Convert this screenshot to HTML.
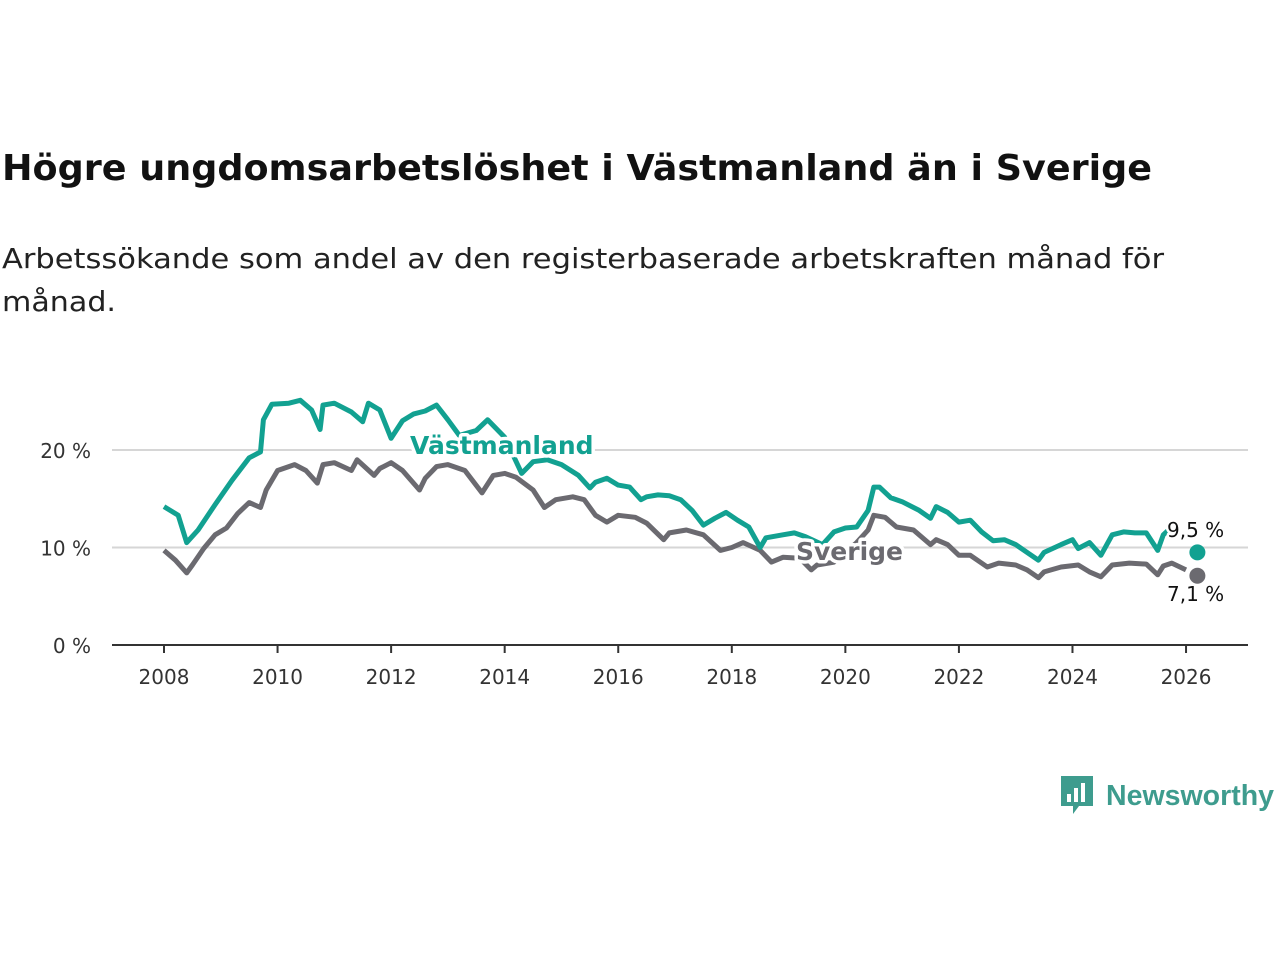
<!DOCTYPE html>
<html><head><meta charset="utf-8"><style>
body{margin:0;background:#fff;width:1280px;height:960px;overflow:hidden;font-family:"DejaVu Sans","Liberation Sans",sans-serif;position:relative}
.fit{position:absolute;white-space:nowrap;transform-origin:0 0;margin:0}
#title{left:2px;top:148px;font-size:36px;font-weight:bold;color:#111}
#sub1{left:2px;top:242px;font-size:28px;color:#222}
#sub2{left:2px;top:285px;font-size:28px;color:#222}
svg#chart{position:absolute;left:0;top:0}
</style></head><body>
<h1 id="title" class="fit" data-fit="1150">Högre ungdomsarbetslöshet i Västmanland än i Sverige</h1>
<div id="sub1" class="fit" data-fit="1162">Arbetssökande som andel av den registerbaserade arbetskraften månad för</div>
<div id="sub2" class="fit" data-fit="114">månad.</div>
<svg id="chart" width="1280" height="960"></svg>
<script>
const vYears=[2008.0,2008.25,2008.4,2008.6,2008.9,2009.2,2009.5,2009.7,2009.75,2009.9,2010.2,2010.4,2010.6,2010.75,2010.8,2011.0,2011.3,2011.5,2011.6,2011.8,2012.0,2012.2,2012.4,2012.6,2012.8,2013.0,2013.2,2013.5,2013.7,2014.0,2014.3,2014.5,2014.75,2015.0,2015.3,2015.5,2015.6,2015.8,2016.0,2016.2,2016.4,2016.5,2016.7,2016.9,2017.1,2017.3,2017.5,2017.7,2017.9,2018.1,2018.3,2018.5,2018.6,2018.9,2019.1,2019.3,2019.6,2019.8,2020.0,2020.2,2020.4,2020.5,2020.6,2020.8,2021.0,2021.3,2021.5,2021.6,2021.8,2022.0,2022.2,2022.4,2022.6,2022.8,2023.0,2023.2,2023.4,2023.5,2023.8,2024.0,2024.1,2024.3,2024.5,2024.7,2024.9,2025.1,2025.3,2025.5,2025.6,2025.75];
const vValues=[14.2,13.3,10.5,11.8,14.4,16.9,19.2,19.8,23.1,24.7,24.8,25.1,24.1,22.1,24.6,24.8,23.9,22.9,24.8,24.1,21.2,23.0,23.7,24.0,24.6,23.1,21.5,22.0,23.1,21.3,17.6,18.8,19.0,18.5,17.4,16.1,16.7,17.1,16.4,16.2,14.9,15.2,15.4,15.3,14.9,13.8,12.3,13.0,13.6,12.8,12.1,10.0,11.0,11.3,11.5,11.1,10.3,11.6,12.0,12.1,13.8,16.2,16.2,15.1,14.7,13.8,13.0,14.2,13.6,12.6,12.8,11.6,10.7,10.8,10.3,9.5,8.7,9.5,10.3,10.8,9.9,10.5,9.2,11.3,11.6,11.5,11.5,9.7,11.3,12.1];
const sYears=[2008.0,2008.2,2008.4,2008.5,2008.7,2008.9,2009.1,2009.3,2009.5,2009.7,2009.8,2010.0,2010.3,2010.5,2010.7,2010.8,2011.0,2011.3,2011.4,2011.7,2011.8,2012.0,2012.2,2012.5,2012.6,2012.8,2013.0,2013.3,2013.6,2013.8,2014.0,2014.2,2014.5,2014.7,2014.9,2015.2,2015.4,2015.6,2015.8,2016.0,2016.3,2016.5,2016.8,2016.9,2017.2,2017.5,2017.8,2018.0,2018.2,2018.5,2018.7,2018.9,2019.2,2019.4,2019.5,2019.8,2020.0,2020.2,2020.4,2020.5,2020.7,2020.9,2021.2,2021.5,2021.6,2021.8,2022.0,2022.2,2022.5,2022.7,2023.0,2023.2,2023.4,2023.5,2023.8,2024.1,2024.3,2024.5,2024.7,2025.0,2025.3,2025.5,2025.6,2025.75,2026.0];
const sValues=[9.7,8.7,7.4,8.2,9.9,11.3,12.0,13.5,14.6,14.1,15.9,17.9,18.5,17.9,16.6,18.5,18.7,17.9,19.0,17.4,18.1,18.7,17.9,15.9,17.1,18.3,18.5,17.9,15.6,17.4,17.6,17.2,15.9,14.1,14.9,15.2,14.9,13.3,12.6,13.3,13.1,12.5,10.8,11.5,11.8,11.3,9.7,10.0,10.5,9.7,8.5,9.0,8.9,7.7,8.2,8.5,9.5,10.5,11.8,13.3,13.1,12.1,11.8,10.3,10.8,10.3,9.2,9.2,8.0,8.4,8.2,7.7,6.9,7.5,8.0,8.2,7.5,7.0,8.2,8.4,8.3,7.2,8.1,8.4,7.7];
const lastYear=2026.2, vLast=9.5, sLast=7.1;
const xTicks=[2008,2010,2012,2014,2016,2018,2020,2022,2024,2026];
const yTicks=[0,10,20];
const NS="http://www.w3.org/2000/svg";
const svg=document.getElementById('chart');
const X=t=>164+(t-2008)*56.78;
const Y=v=>645-v*9.75;
function el(tag,attrs,parent){const e=document.createElementNS(NS,tag);for(const k in attrs)e.setAttribute(k,attrs[k]);(parent||svg).appendChild(e);return e;}
yTicks.forEach(v=>{
  if(v>0){const g=el('line',{x1:112,x2:1248,y1:Y(v),y2:Y(v),stroke:'#d6d6d6','stroke-width':2});
  
  }
  const t=el('text',{x:91,y:Y(v)+8,'text-anchor':'end','font-size':20,fill:'#333'});t.textContent=v+' %';
  
  
});
const ax=el('line',{x1:112,x2:1248,y1:645,y2:645,stroke:'#333','stroke-width':2});


xTicks.forEach(y=>{
  el('line',{x1:X(y),x2:X(y),y1:645,y2:653,stroke:'#333','stroke-width':2});
  const t=el('text',{x:X(y),y:684,'text-anchor':'middle','font-size':20,fill:'#333'});t.textContent=y;
  
  
});
function line(ys,vs,color,name){
  const d=ys.map((t,i)=>(i?'L':'M')+X(t).toFixed(1)+','+Y(vs[i]).toFixed(1)).join('');
  const p=el('path',{d:d,fill:'none',stroke:color,'stroke-width':5,'stroke-linejoin':'round'});
  
  
}
line(sYears,sValues,'#6b6a70','sverige-line');
line(vYears,vValues,'#12a191','vastmanland-line');
const d1=el('circle',{cx:X(lastYear),cy:Y(vLast),r:8,fill:'#12a191'});


const d2=el('circle',{cx:X(lastYear),cy:Y(sLast),r:8,fill:'#6b6a70'});


function lab(x,y,txt,color,name,size,bold){
  const t=el('text',{x:x,y:y,'font-size':size,fill:color,'font-weight':bold?'bold':'normal',stroke:'#fff','stroke-width':bold?7:5,'paint-order':'stroke','stroke-linejoin':'round'});
  t.textContent=txt;
  
  
}
lab(1167,537,'9,5 %','#111','vastmanland-value-label',20,false);
lab(1167,601,'7,1 %','#111','sverige-value-label',20,false);
lab(410,454,'Västmanland','#12a191','vastmanland-series-label',25,true);
lab(796,560,'Sverige','#6b6a70','sverige-series-label',25,true);
</script>
<div style="position:absolute;left:1059px;top:774px;display:flex;align-items:center">
<svg width="36" height="44"><path d="M2 2h32v30H20l-6 8v-8H2z" fill="#3e9c8e"/><rect x="8" y="20" width="4" height="8" fill="#fff"/><rect x="15" y="14" width="4" height="14" fill="#fff"/><rect x="22" y="9" width="4" height="19" fill="#fff"/></svg>
<span class="fit" data-fit="168" style="position:relative;font-size:29px;color:#3e9c8e;margin-left:11px;font-family:'Liberation Sans',sans-serif;font-weight:bold">Newsworthy</span></div>
<script>
document.querySelectorAll('.fit').forEach(e=>{const w=e.getBoundingClientRect().width;const t=+e.dataset.fit;if(w>0)e.style.transform='scaleX('+(t/w)+')';});
</script>
</body></html>
